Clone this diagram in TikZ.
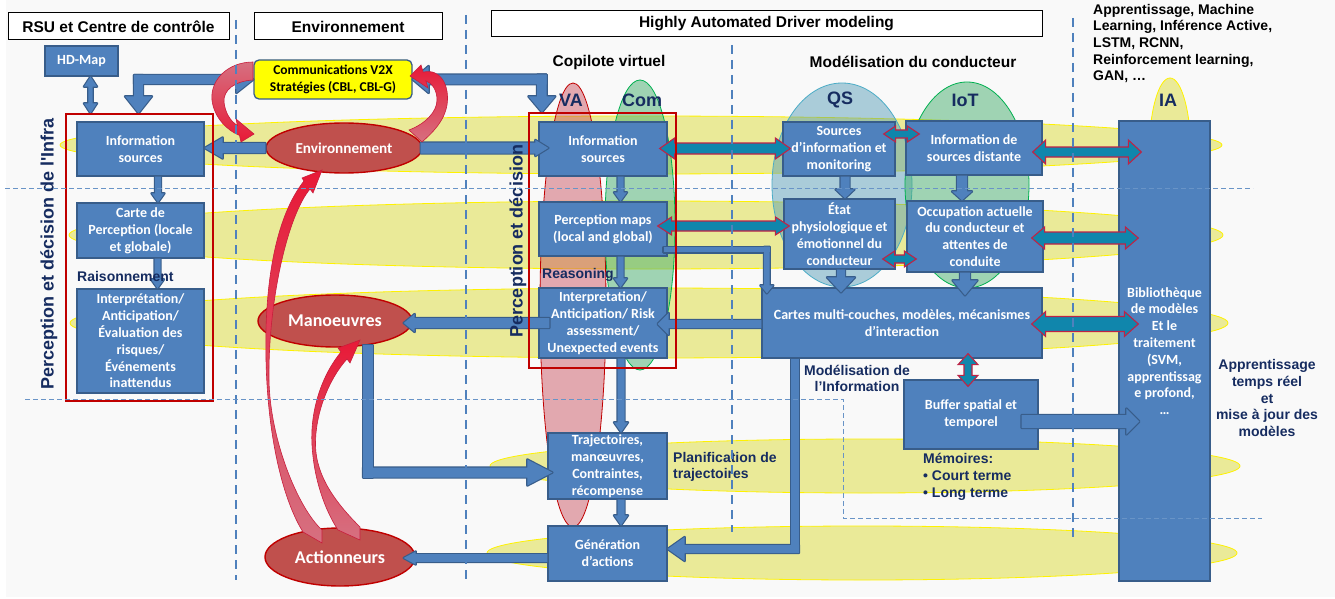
\documentclass[tikz,border=0pt]{standalone}
\usepackage{fontspec}
\usetikzlibrary{calc,shapes.geometric}
\newfontfamily\calfont{Carlito}
\newfontfamily\arfont{Liberation Sans}

\definecolor{bgcol}{RGB}{249,249,249}
\definecolor{boxblue}{RGB}{79,129,189}
\definecolor{boxline}{RGB}{56,93,138}
\definecolor{tealA}{RGB}{16,134,172}
\definecolor{crim}{RGB}{190,35,70}
\definecolor{redfill}{RGB}{192,80,77}
\definecolor{redline}{RGB}{192,0,0}
\definecolor{navy}{RGB}{22,44,96}
\definecolor{laneY}{RGB}{226,226,100}
\definecolor{dashblue}{RGB}{79,129,189}
\definecolor{vaRed}{RGB}{200,70,85}
\definecolor{comGreen}{RGB}{70,175,110}
\definecolor{comLine}{RGB}{0,176,80}
\definecolor{qsBlue}{RGB}{75,150,180}
\definecolor{qsLine}{RGB}{75,172,198}
\definecolor{v2xYellow}{RGB}{255,255,0}
\definecolor{curveRed}{RGB}{232,25,55}
\definecolor{curvePink}{RGB}{214,112,128}
\definecolor{curveLine}{RGB}{200,30,60}

\newcommand\boxfont{\calfont\bfseries\fontsize{14}{16.8}\selectfont}
\newcommand\vtxfont{\calfont\bfseries\fontsize{13.5}{16.8}\selectfont}
\newcommand\hdrfont{\arfont\bfseries\fontsize{15.5}{18}\selectfont}
\newcommand\lblfont{\arfont\bfseries\fontsize{14}{16.7}\selectfont}
\newcommand\bigfont{\arfont\bfseries\fontsize{18}{21}\selectfont}
\newcommand\ellfontA{\calfont\bfseries\fontsize{15.2}{18}\selectfont}
\newcommand\ellfontB{\calfont\bfseries\fontsize{18}{20}\selectfont}

% block arrow shapes: style, from, to, shaft half width, head half width, head length
\newcommand\bkA[6]{%
  \path ($(#3)!#6!(#2)$) coordinate (bkH);
  \path[#1] ($(#2)!#4!90:(#3)$) -- ($(bkH)!#4!-90:(#2)$) -- ($(bkH)!#5!-90:(#2)$) -- (#3)
    -- ($(bkH)!#5!90:(#2)$) -- ($(bkH)!#4!90:(#2)$) -- ($(#2)!#4!-90:(#3)$) -- cycle;}
\newcommand\bkD[6]{%
  \path ($(#3)!#6!(#2)$) coordinate (bkH) ($(#2)!#6!(#3)$) coordinate (bkT);
  \path[#1] (#2) -- ($(bkT)!#5!90:(#3)$) -- ($(bkT)!#4!90:(#3)$) -- ($(bkH)!#4!-90:(#2)$)
    -- ($(bkH)!#5!-90:(#2)$) -- (#3) -- ($(bkH)!#5!90:(#2)$) -- ($(bkH)!#4!90:(#2)$)
    -- ($(bkT)!#4!-90:(#3)$) -- ($(bkT)!#5!-90:(#3)$) -- cycle;}
\newcommand\bkB[4]{%
  \path[#1] ($(#2)!#4!90:(#3)$) -- ($(#3)!#4!-90:(#2)$) -- ($(#3)!#4!90:(#2)$) -- ($(#2)!#4!-90:(#3)$) -- cycle;}

\newcommand\blockarrow[5]{\bkA{blkline}{#1}{#2}{#3}{#4}{#5}\bkA{blkfill}{#1}{#2}{#3}{#4}{#5}}
\newcommand\blockdbl[5]{\bkD{blkline}{#1}{#2}{#3}{#4}{#5}\bkD{blkfill}{#1}{#2}{#3}{#4}{#5}}
% elbow: start, corner, tip
\newcommand\blockelbow[6]{%
  \path ($(#2)!-#4!(#1)$) coordinate (bkE1) ($(#2)!-#4!(#3)$) coordinate (bkE2);
  \bkB{blkline}{#1}{bkE1}{#4}\bkA{blkline}{bkE2}{#3}{#4}{#5}{#6}%
  \bkB{blkfill}{#1}{bkE1}{#4}\bkA{blkfill}{bkE2}{#3}{#4}{#5}{#6}}
% double elbow: tip, corner, tip
\newcommand\blockelbowdbl[6]{%
  \path ($(#2)!-#4!(#1)$) coordinate (bkE1) ($(#2)!-#4!(#3)$) coordinate (bkE2);
  \bkA{blkline}{bkE1}{#1}{#4}{#5}{#6}\bkA{blkline}{bkE2}{#3}{#4}{#5}{#6}%
  \bkA{blkfill}{bkE1}{#1}{#4}{#5}{#6}\bkA{blkfill}{bkE2}{#3}{#4}{#5}{#6}}
\newcommand\tealdbl[5]{\bkD{tealarr}{#1}{#2}{#3}{#4}{#5}}

\tikzset{
  box/.style={rectangle, draw=boxline, line width=1.3pt, fill=boxblue, text=white,
    font=\boxfont, align=center, inner sep=0pt},
  hdr/.style={rectangle, draw=black, line width=1pt, fill=white, font=\hdrfont, inner sep=0pt},
  redell/.style={ellipse, draw=redline, line width=1.4pt, fill=redfill, text=white, inner sep=0pt},
  redframe/.style={rectangle, draw=redline, line width=2pt, inner sep=0pt},
  navylbl/.style={text=navy, font=\lblfont, inner sep=0pt},
  lane/.style={fill=laneY, fill opacity=0.65, draw=yellow, line width=0.8pt},
  blkline/.style={draw=boxline, line width=2.4pt, line join=round},
  blkfill/.style={fill=boxblue},
  tealarr/.style={fill=tealA, draw=crim, line width=1.1pt, line join=miter},
  curveA/.style={top color=curvePink, bottom color=curveRed, draw=curveLine, line width=0.6pt},
  curveC/.style={top color=curveRed, bottom color=curvePink, draw=curveLine, line width=0.6pt},
  vdash/.style={draw=dashblue, line width=1.6pt, dash pattern=on 9pt off 6pt},
  hdash/.style={draw=dashblue!85, line width=0.8pt, dash pattern=on 5pt off 3pt},
}

\begin{document}
\begin{tikzpicture}[x=1pt,y=-1pt]
\useasboundingbox (0,0) rectangle (1335,599);
\fill[white] (0,0) rectangle (1335,599);
\fill[bgcol] (6,0) rectangle (1335,597);

% horizontal lanes
\path[lane] (641,145) ellipse [x radius=581pt, y radius=29pt];
\path[lane] (646,235) ellipse [x radius=577pt, y radius=34pt];
\path[lane] (649,323) ellipse [x radius=579pt, y radius=35pt];
\path[lane] (865,466) ellipse [x radius=375pt, y radius=27pt];
\path[lane] (862,553) ellipse [x radius=375pt, y radius=27pt];

% vertical groupings
\path[fill=vaRed, fill opacity=0.45, draw=redline, line width=0.8pt] (573,305) ellipse [x radius=33pt, y radius=222pt];
\path[fill=comGreen, fill opacity=0.5, draw=comLine, line width=0.8pt] (640,225) ellipse [x radius=35pt, y radius=145pt];
\path[fill=qsBlue, fill opacity=0.45, draw=qsLine, line width=0.8pt] (842,185) ellipse [x radius=70pt, y radius=102pt];
\path[fill=comGreen, fill opacity=0.5, draw=comLine, line width=0.8pt] (967,185) ellipse [x radius=62pt, y radius=103pt];
\path[lane] (1170,155) ellipse [x radius=21pt, y radius=77pt];

% column headers
\node[hdr, minimum width=221pt, minimum height=27pt] (hdrA) at (118.5,26.5) {RSU et Centre de contrôle};
\node[hdr, minimum width=188pt, minimum height=27pt] (hdrB) at (348,26.5) {Environnement};
\node[hdr, minimum width=551pt, minimum height=26pt] (hdrC) at (766.5,24) {Highly Automated Driver modeling};

% infrastructure column
\node[box, minimum width=73pt, minimum height=30pt] (hd) at (81.5,61) {HD-Map};
\node[box, minimum width=127pt, minimum height=54pt] (isL) at (140.5,149) {Information\\sources};
\node[box, minimum width=127pt, minimum height=55pt] (carte) at (140.5,230.5) {Carte de\\Perception (locale\\et globale)};
\node[box, minimum width=127pt, minimum height=104pt] (interpL) at (140.5,341) {Interprétation/\\Anticipation/\\Évaluation des\\risques/\\Événements\\inattendus};

% virtual copilot column
\node[box, minimum width=128pt, minimum height=54pt] (isM) at (603,149) {Information\\sources};
\node[box, minimum width=128pt, minimum height=54pt] (percM) at (603,229) {Perception maps\\(local and global)};
\node[box, minimum width=128pt, minimum height=70pt] (interpM) at (603,323) {Interpretation/\\Anticipation/ Risk\\assessment/\\Unexpected events};
\node[box, minimum width=119pt, minimum height=66pt] (traj) at (607.5,466) {Trajectoires,\\manœuvres,\\Contraintes,\\récompense};
\node[box, minimum width=119pt, minimum height=55pt] (gen) at (607.5,553.5) {Génération\\d’actions};

% driver modelling column
\node[box, minimum width=112pt, minimum height=54pt] (srcInfo) at (839,149) {Sources\\d’information et\\monitoring};
\node[box, minimum width=111pt, minimum height=70pt] (etat) at (839.5,234) {État\\physiologique et\\émotionnel du\\conducteur};
\node[box, minimum width=136pt, minimum height=54pt] (distante) at (974,148) {Information de\\sources distante};
\node[box, minimum width=136pt, minimum height=71pt] (occup) at (975,236.5) {Occupation actuelle\\du conducteur et\\attentes de\\conduite};
\node[box, minimum width=280pt, minimum height=70pt] (cartes) at (902,323) {Cartes multi-couches, modèles, mécanismes\\d’interaction};
\node[box, minimum width=134pt, minimum height=69pt] (buffer) at (971,414.5) {Buffer spatial et\\temporel};
\node[box, minimum width=91pt, minimum height=460pt] (ia) at (1164.5,351) {Bibliothèque\\de modèles\\Et le\\traitement\\(SVM,\\apprentissag\\e profond,\\…};

% environment column
\node[rectangle, rounded corners=5pt, draw=boxline, line width=1.3pt, fill=v2xYellow, font=\vtxfont,
  align=center, minimum width=158pt, minimum height=39pt, inner sep=0pt] (v2x) at (333,79.5)
  {Communications V2X\\Stratégies (CBL, CBL-G)};
\node[redell, minimum width=156pt, minimum height=50pt, font=\ellfontA] (env) at (344,148) {Environnement};
\node[redell, minimum width=154pt, minimum height=52pt, font=\ellfontB] (man) at (335,321) {Manoeuvres};
\node[redell, minimum width=150pt, minimum height=58pt, font=\ellfontB] (act) at (340,557) {Actionneurs};

% ---- block arrows ----
\coordinate (a1s) at ($(hd.south)+(9,0)$);
\coordinate (a1e) at ($(a1s |- isL.north)+(0,-8)$);
\blockdbl{a1s}{a1e}{2.2pt}{6.5pt}{10pt}

\coordinate (a2c) at ($(isL.north |- v2x.west)+(-2,0)$);
\coordinate (a2t) at ($(a2c |- isL.north)+(0,-8)$);
\blockelbowdbl{v2x.west}{a2c}{a2t}{4.5pt}{13.5pt}{17pt}

\coordinate (a3c) at ($(isM.west |- v2x.east)+(3.5,0)$);
\coordinate (a3t) at ($(a3c |- isM.north)+(0,-9)$);
\blockelbowdbl{v2x.east}{a3c}{a3t}{4.8pt}{13.5pt}{16pt}

\coordinate (a4t) at (isL.east |- env.west);
\blockarrow{env.west}{a4t}{5pt}{10.5pt}{18pt}

\coordinate (a5s) at ($(env.east)+(-2,0)$);
\coordinate (a5t) at ($(isM.west |- env.east)+(10,0)$);
\blockarrow{a5s}{a5t}{5.5pt}{8pt}{13pt}

\coordinate (a6s) at ($(isL.south)+(17.5,0)$);
\coordinate (a6t) at (a6s |- carte.north);
\blockarrow{a6s}{a6t}{3pt}{6.5pt}{9pt}
\coordinate (a7s) at ($(carte.south)+(17,0)$);
\coordinate (a7t) at (a7s |- interpL.north);
\blockarrow{a7s}{a7t}{3pt}{6.5pt}{9pt}

\coordinate (a8s) at ($(isM.south)+(17.5,0)$);
\coordinate (a8t) at (a8s |- percM.north);
\blockarrow{a8s}{a8t}{3pt}{6.5pt}{9pt}
\coordinate (a9s) at ($(percM.south)+(17.5,0)$);
\coordinate (a9t) at (a9s |- interpM.north);
\blockarrow{a9s}{a9t}{3pt}{6.5pt}{9pt}
\coordinate (a10s) at ($(interpM.south)+(18,0)$);
\coordinate (a10t) at (a10s |- traj.north);
\blockarrow{a10s}{a10t}{3.5pt}{7pt}{10pt}
\coordinate (a11s) at ($(traj.south)+(13.5,0)$);
\coordinate (a11t) at (a11s |- gen.north);
\blockarrow{a11s}{a11t}{3.5pt}{7pt}{10pt}

\coordinate (a12s) at ($(percM.east)+(-4,20.5)$);
\coordinate (a12c) at ($(cartes.west |- a12s)+(5.5,0)$);
\coordinate (a12t) at ($(a12c |- cartes.north)+(0,6)$);
\blockelbow{a12s}{a12c}{a12t}{2.8pt}{6.5pt}{8pt}

\coordinate (a13s) at ($(cartes.west)+(0,1)$);
\coordinate (a13t) at ($(interpM.east |- a13s)+(-10,0)$);
\blockarrow{a13s}{a13t}{4pt}{11pt}{11pt}

\coordinate (a14s) at ($(interpM.west)+(11,0)$);
\coordinate (a14t) at ($(man.east |- a14s)+(-9,0)$);
\blockarrow{a14s}{a14t}{5pt}{9pt}{11pt}

\coordinate (a15t) at ($(traj.west)+(5,6.5)$);
\coordinate (a15s) at ($(man.south)+(33,-2.5)$);
\coordinate (a15c) at (a15s |- a15t);
\blockelbow{a15s}{a15c}{a15t}{5pt}{13pt}{25pt}

\coordinate (a16s) at ($(gen.west)+(0,4.5)$);
\coordinate (a16t) at ($(act.east |- a16s)+(-12,0)$);
\blockarrow{a16s}{a16t}{3.8pt}{6.5pt}{12pt}

\coordinate (a17s) at ($(cartes.south)+(-107,0)$);
\coordinate (a17t) at ($(gen.east)+(0,-4.5)$);
\coordinate (a17c) at (a17s |- a17t);
\blockelbow{a17s}{a17c}{a17t}{4pt}{12pt}{17pt}

\coordinate (a18s) at ($(etat.south)+(1.5,0)$);
\coordinate (a18t) at ($(a18s |- cartes.north)+(0,5)$);
\blockarrow{a18s}{a18t}{4pt}{14pt}{15pt}
\coordinate (a19s) at ($(srcInfo.south)+(6,0)$);
\coordinate (a19t) at (a19s |- etat.north);
\blockarrow{a19s}{a19t}{4.5pt}{9.5pt}{9pt}
\coordinate (a20s) at ($(distante.south)+(-12,0)$);
\coordinate (a20t) at (a20s |- occup.north);
\blockarrow{a20s}{a20t}{5pt}{10pt}{9pt}
\coordinate (a21s) at ($(occup.south)+(-10,0)$);
\coordinate (a21t) at ($(a21s |- cartes.north)+(0,8)$);
\blockarrow{a21s}{a21t}{5pt}{12.5pt}{15pt}

\coordinate (a22s) at ($(buffer.east)+(-17,7)$);
\coordinate (a22t) at ($(ia.west |- a22s)+(21,0)$);
\blockarrow{a22s}{a22t}{6.5pt}{13pt}{13pt}

% ---- two-way exchange arrows ----
\coordinate (t1a) at ($(isM.east)+(-8,-0.5)$);
\coordinate (t1b) at ($(srcInfo.west)+(8,-0.5)$);
\tealdbl{t1a}{t1b}{5.5pt}{10.5pt}{15pt}
\coordinate (t2a) at ($(percM.east)+(-10,-3)$);
\coordinate (t2b) at ($(etat.west)+(6,-8)$);
\tealdbl{t2a}{t2b}{5pt}{9pt}{14pt}
\coordinate (t3a) at ($(srcInfo.east)+(-12,-15)$);
\coordinate (t3b) at ($(distante.west |- t3a)+(14,0)$);
\tealdbl{t3a}{t3b}{4pt}{8pt}{12pt}
\coordinate (t4a) at ($(etat.east)+(-13,25)$);
\coordinate (t4b) at ($(occup.west |- t4a)+(10,0)$);
\tealdbl{t4a}{t4b}{4pt}{8pt}{12pt}
\coordinate (t5a) at ($(distante.east)+(-10,4)$);
\coordinate (t5b) at ($(ia.west |- t5a)+(23,0)$);
\tealdbl{t5a}{t5b}{5pt}{12pt}{13pt}
\coordinate (t6a) at ($(occup.east)+(-12,1.5)$);
\coordinate (t6b) at ($(ia.west |- t6a)+(20,0)$);
\tealdbl{t6a}{t6b}{6pt}{11pt}{13pt}
\coordinate (t7a) at ($(cartes.east)+(-11,1)$);
\coordinate (t7b) at ($(ia.west |- t7a)+(20,0)$);
\tealdbl{t7a}{t7b}{7.5pt}{12.5pt}{14pt}
\coordinate (t8a) at ($(cartes.south)+(66,-5)$);
\coordinate (t8b) at ($(t8a |- buffer.north)+(0,7)$);
\tealdbl{t8a}{t8b}{4pt}{10pt}{11pt}

% perception and decision frames
\node[redframe, minimum width=147pt, minimum height=287pt] (redL) at (139.5,257.5) {};
\node[redframe, minimum width=147pt, minimum height=255pt] (redM) at (602.5,240.5) {};

% curved feedback arrows around the environment
\path[curveA] (253,62) .. controls (228,62) and (210,80) .. (212,100) .. controls (214,118) and (228,131) .. (239.5,135.4)
  -- (241,142) -- (254,134) -- (236,119) -- (237.5,125.6) .. controls (230,121) and (225,112) .. (224,102)
  .. controls (223,90) and (235,81) .. (253,80) -- cycle;
\path[curveC] (423.2,72.2) .. controls (440,68) and (450,85) .. (447,105) .. controls (444,122) and (432,133) .. (422,142)
  -- (409,130) .. controls (425,124) and (437,112) .. (437,100) .. controls (437,90) and (432,83) .. (425.8,80.8)
  -- (428,88) -- (410,76) -- (421,65) -- cycle;
\path[curveC] (304,181) .. controls (285,205) and (268,250) .. (266,330) .. controls (264,420) and (280,495) .. (303,532)
  -- (322,543) -- (322,530) .. controls (298,508) and (270,440) .. (269,380) .. controls (268,300) and (288,215) .. (310,189)
  -- (313,193) -- (322,170) -- (302,178) -- cycle;
\path[curveC] (341,352) .. controls (322,375) and (310,410) .. (312,445) .. controls (314,480) and (325,510) .. (338,530)
  -- (360,540) -- (360,527) .. controls (338,505) and (316,478) .. (315.5,445) .. controls (315,415) and (328,380) .. (347,359)
  -- (350,363) -- (360,340) -- (338,348) -- cycle;

% labels
\node[navylbl, anchor=west] (raison) at (77,276) {Raisonnement};
\node[navylbl, anchor=west] (reason) at (542,275) {Reasoning};
\node[navylbl, font=\bigfont, rotate=90] (pdInfra) at (49,254) {Perception et décision de l'Infra};
\node[navylbl, font=\bigfont, rotate=90] (pdMid) at (518,241) {Perception et décision};
\node[font=\hdrfont, inner sep=0pt] (copil) at (609,62) {Copilote virtuel};
\node[font=\hdrfont, inner sep=0pt] (modcond) at (913,62) {Modélisation du conducteur};
\node[navylbl, font=\bigfont] (lVA) at (571,100) {VA};
\node[navylbl, font=\bigfont] (lCom) at (642,100) {Com};
\node[navylbl, font=\bigfont] (lQS) at (840,100) {QS};
\node[navylbl, font=\bigfont] (lIoT) at (965,100) {IoT};
\node[navylbl, font=\bigfont] (lIA) at (1168,100) {IA};
\node[font=\lblfont, align=left, anchor=west, inner sep=0pt] (techs) at (1093,43.5)
  {Apprentissage, Machine\\Learning, Inférence Active,\\LSTM, RCNN,\\Reinforcement learning,\\GAN, …};
\node[navylbl, align=center] (rtlearn) at (1267,398) {Apprentissage\\temps réel\\et\\mise à jour des\\modèles};
\node[navylbl, align=center] (modinfo) at (857,378.5) {Modélisation de\\l’Information};
\node[navylbl, align=left, anchor=west] (memo) at (923,477) {Mémoires:\\• Court terme\\• Long terme};
\node[navylbl, align=left, anchor=west] (planif) at (673,467) {Planification de\\trajectoires};

% column separators
\draw[vdash] (236,20) -- (236,580);
\draw[vdash] (466,15) -- (466,580);
\draw[vdash] (732,45) -- (732,532);
\draw[vdash] (1073,18) -- (1073,540);
\draw[hdash] (5,188) -- (1253,188);
\draw[hdash] (25,399) -- (843,399) -- (843,518) -- (1262,518);
\end{tikzpicture}
\end{document}
